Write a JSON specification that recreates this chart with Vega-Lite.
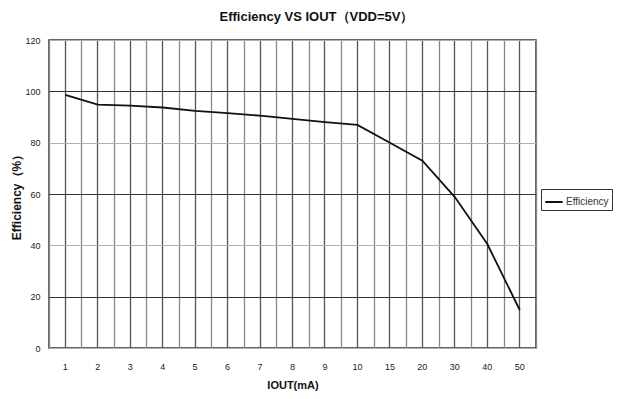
{
  "$schema": "https://vega.github.io/schema/vega-lite/v6.json",
  "autosize": "none",
  "width": 487,
  "height": 308,
  "padding": {"left": 49, "top": 40, "right": 88, "bottom": 51},
  "background": "white",
  "title": {
    "text": "Efficiency VS IOUT（VDD=5V）",
    "font": "Liberation Sans",
    "fontSize": 13,
    "fontWeight": "bold",
    "color": "#111",
    "anchor": "middle",
    "dx": 24,
    "offset": 12
  },
  "config": {
    "view": {"stroke": "#333", "strokeWidth": 1.5},
    "font": "Liberation Sans"
  },
  "data": {
    "values": [
      {"iout": "1", "eff": 98.6, "series": "Efficiency"},
      {"iout": "2", "eff": 94.8, "series": "Efficiency"},
      {"iout": "3", "eff": 94.4, "series": "Efficiency"},
      {"iout": "4", "eff": 93.7, "series": "Efficiency"},
      {"iout": "5", "eff": 92.4, "series": "Efficiency"},
      {"iout": "6", "eff": 91.5, "series": "Efficiency"},
      {"iout": "7", "eff": 90.5, "series": "Efficiency"},
      {"iout": "8", "eff": 89.3, "series": "Efficiency"},
      {"iout": "9", "eff": 88.0, "series": "Efficiency"},
      {"iout": "10", "eff": 86.9, "series": "Efficiency"},
      {"iout": "15", "eff": 80.0, "series": "Efficiency"},
      {"iout": "20", "eff": 73.0, "series": "Efficiency"},
      {"iout": "30", "eff": 58.8, "series": "Efficiency"},
      {"iout": "40", "eff": 40.5, "series": "Efficiency"},
      {"iout": "50", "eff": 14.8, "series": "Efficiency"}
    ]
  },
  "layer": [
    {
      "mark": {"type": "line", "strokeWidth": 1.8},
      "encoding": {
        "x": {
          "field": "iout",
          "type": "ordinal",
          "sort": null,
          "scale": {"type": "band", "paddingInner": 0, "paddingOuter": 0},
          "axis": {
            "title": "IOUT(mA)",
            "titleFont": "Liberation Sans",
            "titleFontSize": 11,
            "titleFontWeight": "bold",
            "titleColor": "#111",
            "titlePadding": 8,
            "labelAngle": 0,
            "labelFontSize": 9,
            "labelColor": "#222",
            "labelPadding": 14,
            "ticks": false,
            "domain": false,
            "grid": true,
            "gridColor": "#555",
            "gridWidth": 1.3
          }
        },
        "y": {
          "field": "eff",
          "type": "quantitative",
          "scale": {"domain": [0, 120]},
          "axis": {
            "values": [0, 20, 40, 60, 80, 100, 120],
            "title": "Efficiency（%）",
            "titleFont": "Liberation Sans",
            "titleFontSize": 12,
            "titleFontWeight": "bold",
            "titleColor": "#111",
            "titlePadding": 1,
            "labelFontSize": 9,
            "labelColor": "#222",
            "labelPadding": 9,
            "ticks": false,
            "domain": false,
            "grid": true,
            "gridWidth": 1.2,
            "gridColor": {"condition": {"test": "datum.value % 40 == 20", "value": "#333"}, "value": "#b0b0b0"}
          }
        },
        "color": {
          "field": "series",
          "type": "nominal",
          "scale": {"range": ["#111"]},
          "legend": {
            "title": null,
            "orient": "none",
            "legendX": 492,
            "legendY": 149,
            "symbolType": "stroke",
            "symbolSize": 300,
            "symbolStrokeWidth": 2,
            "labelFontSize": 10,
            "labelColor": "#333",
            "labelOffset": 2,
            "strokeColor": "#333",
            "padding": 3,
            "fillColor": "white"
          }
        }
      }
    },
    {
      "mark": {"type": "line", "opacity": 0},
      "encoding": {
        "x": {
          "field": "iout",
          "type": "ordinal",
          "sort": null,
          "axis": {
            "orient": "top",
            "title": null,
            "labels": false,
            "ticks": false,
            "domain": false,
            "grid": true,
            "tickBand": "extent",
            "gridColor": "#888",
            "gridWidth": 1.3
          }
        },
        "y": {"field": "eff", "type": "quantitative"}
      }
    }
  ],
  "resolve": {"axis": {"x": "independent"}}
}
